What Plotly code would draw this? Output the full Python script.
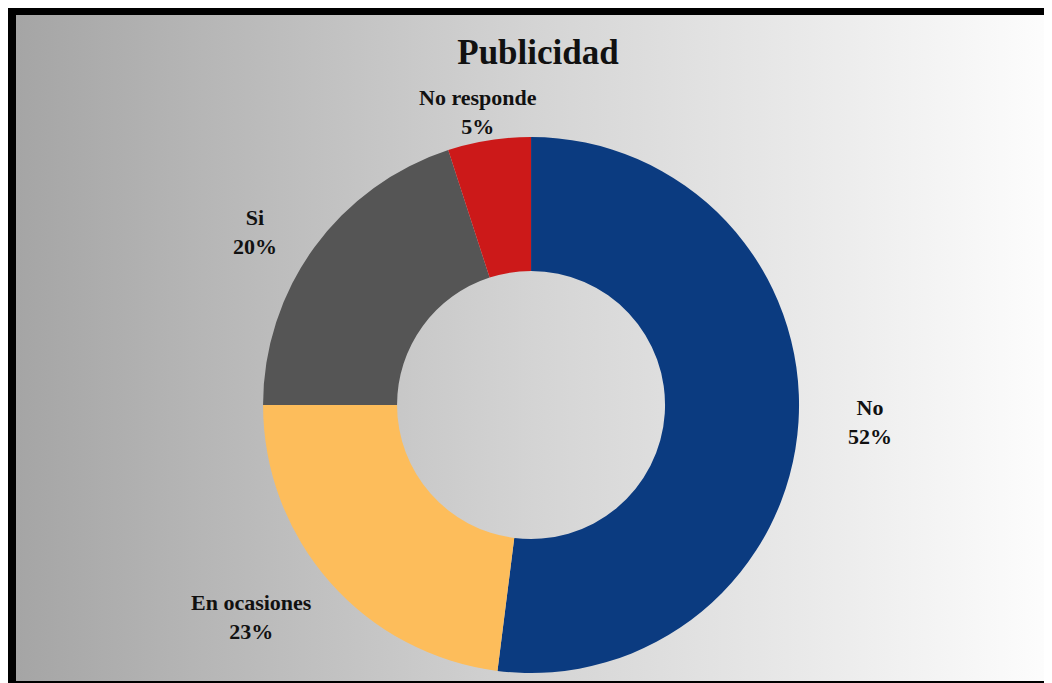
import plotly.graph_objects as go

# datos de la encuesta
categorias = ["No", "En ocasiones", "Si", "No responde"]
porcentajes = [52, 23, 20, 5]
colores = ["#0B3B80", "#FDBD5B", "#555555", "#CC1919"]

# la pagina deja 8px de margen arriba y a la izquierda
W, H = 1044, 675
fuente = "Liberation Serif, Times New Roman, serif"

fig = go.Figure()

# fondo degradado gris -> blanco
fig.add_trace(go.Scatter(
    x=[8, W, W, 8, 8], y=[2, 2, 668, 668, 2],
    mode="lines", line=dict(width=0), fill="toself",
    fillgradient=dict(type="horizontal",
                      colorscale=[[0, "#A5A5A5"], [0.5, "#D4D4D4"], [1, "#FDFDFD"]]),
    hoverinfo="skip", showlegend=False))

fig.add_trace(go.Pie(
    labels=categorias, values=porcentajes,
    marker=dict(colors=colores, line=dict(width=0)),
    hole=0.5, sort=False, direction="clockwise", rotation=0,
    textinfo="none", hoverinfo="label+percent", showlegend=False,
    domain=dict(x=[0.2443, 0.7577], y=[0.0148, 0.8089])))

# etiquetas de datos (posicion a mano, como en Excel)
pos_etiquetas = {
    "No": (862, 414),
    "En ocasiones": (243, 609),
    "Si": (247, 224),
    "No responde": (470, 104),
}
for cat, pct in zip(categorias, porcentajes):
    px_, py_ = pos_etiquetas[cat]
    fig.add_annotation(
        x=px_ / W, y=1 - py_ / H, xref="paper", yref="paper",
        xanchor="center", yanchor="middle",
        text=f"<b>{cat}</b><br><b>{pct}%</b>", showarrow=False,
        font=dict(family=fuente, size=22, color="#111111"), align="center")

# bordes negros
fig.add_shape(type="rect", xref="paper", yref="paper",
              x0=0, x1=1, y0=1 - 7 / H, y1=1,
              fillcolor="black", line=dict(width=0), layer="above")
fig.add_shape(type="rect", xref="paper", yref="paper",
              x0=0, x1=8 / W, y0=0, y1=1,
              fillcolor="black", line=dict(width=0), layer="above")
fig.add_shape(type="rect", xref="paper", yref="paper",
              x0=0, x1=1, y0=0, y1=2 / H,
              fillcolor="black", line=dict(width=0), layer="above")

fig.update_layout(
    width=W, height=H,
    margin=dict(l=0, r=0, t=0, b=0),
    paper_bgcolor="white", plot_bgcolor="rgba(0,0,0,0)",
    title=dict(text="<b>Publicidad</b>", x=530 / W, xanchor="center",
               y=1 - 44 / H, yanchor="middle",
               font=dict(family=fuente, size=35, color="#111111")),
    xaxis=dict(range=[0, W], visible=False, fixedrange=True),
    yaxis=dict(range=[0, H], visible=False, fixedrange=True),
)

fig.write_html("out.html")
